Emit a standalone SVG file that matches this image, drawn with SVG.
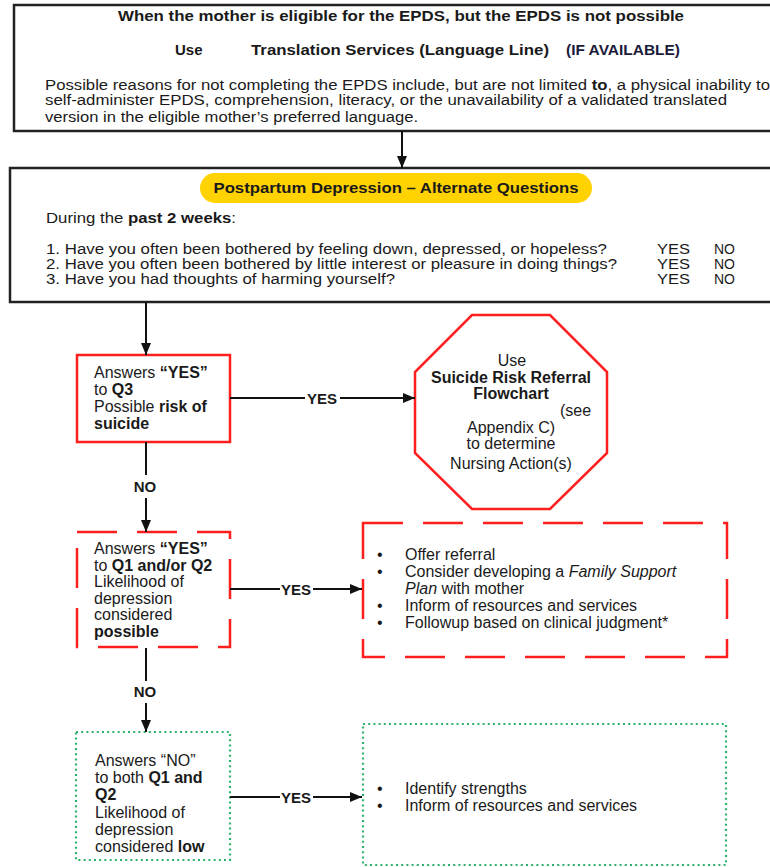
<svg xmlns="http://www.w3.org/2000/svg" width="770" height="867" viewBox="0 0 770 867">
<defs>
<marker id="ah" markerWidth="12" markerHeight="10" refX="12" refY="5" orient="auto" markerUnits="userSpaceOnUse">
<path d="M0,0 L12,5 L0,10 Z" fill="#111"/>
</marker>
<style>
text{font-family:"Liberation Sans",Arial,sans-serif;fill:#1a1a1a}
.t{font-size:15px}
.s{font-size:14px}
.n{font-size:16px}
.b{font-weight:bold}
.i{font-style:italic}
.lbl{font-size:15px;font-weight:bold;text-anchor:middle}
.frame{fill:#fff;stroke:#222;stroke-width:2.5}
.red{fill:#fff;stroke:#ff1f1f;stroke-width:2.5}
.redd{fill:#fff;stroke:#ff1f1f;stroke-width:2.5;stroke-dasharray:40 20}
.grn{fill:#fff;stroke:#2db36b;stroke-width:2.2;stroke-dasharray:2 3.2}
.c{stroke:#111;stroke-width:2;fill:none}
.m{text-anchor:middle}
</style>
</defs>

<g id="intro">
<rect class="frame" x="14" y="5" width="770" height="126"/>
<text class="t b" x="118" y="21" textLength="566" lengthAdjust="spacingAndGlyphs">When the mother is eligible for the EPDS, but the EPDS is not possible</text>
<text class="t b" x="175" y="55">Use</text>
<text class="t b" x="251" y="55" textLength="298" lengthAdjust="spacingAndGlyphs">Translation Services (Language Line)</text>
<text class="t b" x="566" y="55" textLength="114" lengthAdjust="spacingAndGlyphs" style="fill:#1a1a3a">(IF AVAILABLE)</text>
<text class="s" x="45" y="90" textLength="725" lengthAdjust="spacingAndGlyphs">Possible reasons for not completing the EPDS include, but are not limited <tspan class="b">to</tspan>, a physical inability to</text>
<text class="s" x="45" y="105" textLength="682" lengthAdjust="spacingAndGlyphs">self-administer EPDS, comprehension, literacy, or the unavailability of a validated translated</text>
<text class="s" x="45" y="122" textLength="373" lengthAdjust="spacingAndGlyphs">version in the eligible mother’s preferred language.</text>
</g>

<g id="questions">
<rect class="frame" x="10" y="168" width="780" height="134"/>
<rect x="200" y="173" width="392" height="30" rx="15" fill="#ffd200"/>
<text class="t b m" x="396" y="193" textLength="365" lengthAdjust="spacingAndGlyphs">Postpartum Depression – Alternate Questions</text>
<text class="t" x="46" y="223" textLength="190" lengthAdjust="spacingAndGlyphs">During the <tspan class="b">past 2 weeks</tspan>:</text>
<text class="s" x="46" y="254" textLength="561" lengthAdjust="spacingAndGlyphs">1. Have you often been bothered by feeling down, depressed, or hopeless?</text>
<text class="s" x="46" y="269" textLength="571" lengthAdjust="spacingAndGlyphs">2. Have you often been bothered by little interest or pleasure in doing things?</text>
<text class="s" x="46" y="284" textLength="349" lengthAdjust="spacingAndGlyphs">3. Have you had thoughts of harming yourself?</text>
<text class="s" x="657" y="254" textLength="33" lengthAdjust="spacingAndGlyphs">YES</text><text class="s" x="714" y="254">NO</text>
<text class="s" x="657" y="269" textLength="33" lengthAdjust="spacingAndGlyphs">YES</text><text class="s" x="714" y="269">NO</text>
<text class="s" x="657" y="284" textLength="33" lengthAdjust="spacingAndGlyphs">YES</text><text class="s" x="714" y="284">NO</text>
</g>

<g id="q3-yes">
<rect class="red" x="77" y="355" width="153" height="87"/>
<text class="n" x="94" y="378">Answers <tspan class="b">“YES”</tspan></text>
<text class="n" x="94" y="395">to <tspan class="b">Q3</tspan></text>
<text class="n" x="94" y="412">Possible <tspan class="b">risk of</tspan></text>
<text class="n b" x="94" y="429">suicide</text>
</g>

<g id="suicide-referral">
<polygon class="red" points="472,315 550,315 607,372 607,453 550,509 472,509 415,453 415,372"/>
<text class="n m" x="512" y="366">Use</text>
<text class="n b m" x="511" y="383">Suicide Risk Referral</text>
<text class="n b m" x="511" y="399">Flowchart</text>
<text class="n" x="560" y="416">(see</text>
<text class="n m" x="511" y="433">Appendix C)</text>
<text class="n m" x="511" y="449">to determine</text>
<text class="n m" x="511" y="469">Nursing Action(s)</text>
</g>

<g id="q12-yes">
<rect class="redd" x="77" y="532" width="153" height="115"/>
<text class="n" x="94" y="554">Answers <tspan class="b">“YES”</tspan></text>
<text class="n" x="94" y="570.5">to <tspan class="b">Q1 and/or Q2</tspan></text>
<text class="n" x="94" y="587">Likelihood of</text>
<text class="n" x="94" y="603.5">depression</text>
<text class="n" x="94" y="620">considered</text>
<text class="n b" x="94" y="636.5">possible</text>
</g>

<g id="possible-actions">
<rect class="redd" x="363" y="523" width="364" height="134"/>
<text class="n" x="377" y="560">•</text><text class="n" x="405" y="560">Offer referral</text>
<text class="n" x="377" y="577">•</text><text class="n" x="405" y="577">Consider developing a <tspan class="i">Family Support</tspan></text>
<text class="n" x="405" y="594"><tspan class="i">Plan</tspan> with mother</text>
<text class="n" x="377" y="611">•</text><text class="n" x="405" y="611">Inform of resources and services</text>
<text class="n" x="377" y="628">•</text><text class="n" x="405" y="628">Followup based on clinical judgment*</text>
</g>

<g id="q12-no">
<rect class="grn" x="76" y="732" width="154" height="128"/>
<text class="n" x="95" y="766">Answers “NO”</text>
<text class="n" x="95" y="783">to both <tspan class="b">Q1 and</tspan></text>
<text class="n b" x="95" y="800">Q2</text>
<text class="n" x="95" y="818">Likelihood of</text>
<text class="n" x="95" y="835">depression</text>
<text class="n" x="95" y="852">considered <tspan class="b">low</tspan></text>
</g>

<g id="low-actions">
<rect class="grn" x="363" y="724" width="363" height="141"/>
<text class="n" x="377" y="794">•</text><text class="n" x="405" y="794">Identify strengths</text>
<text class="n" x="377" y="811">•</text><text class="n" x="405" y="811">Inform of resources and services</text>
</g>

<g id="connectors">
<line class="c" x1="402" y1="131" x2="402" y2="168" marker-end="url(#ah)"/>
<line class="c" x1="146" y1="302" x2="146" y2="355" marker-end="url(#ah)"/>
<line class="c" x1="230" y1="398" x2="305" y2="398"/>
<line class="c" x1="340" y1="398" x2="415" y2="398" marker-end="url(#ah)"/>
<text class="lbl" x="322" y="404">YES</text>
<line class="c" x1="146" y1="442" x2="146" y2="475"/>
<line class="c" x1="146" y1="498" x2="146" y2="532" marker-end="url(#ah)"/>
<text class="lbl" x="145" y="492">NO</text>
<line class="c" x1="230" y1="589" x2="280" y2="589"/>
<line class="c" x1="313" y1="589" x2="362" y2="589" marker-end="url(#ah)"/>
<text class="lbl" x="296" y="595">YES</text>
<line class="c" x1="146" y1="648" x2="146" y2="681"/>
<line class="c" x1="146" y1="703" x2="146" y2="732" marker-end="url(#ah)"/>
<text class="lbl" x="145" y="697">NO</text>
<line class="c" x1="230" y1="797" x2="280" y2="797"/>
<line class="c" x1="313" y1="797" x2="362" y2="797" marker-end="url(#ah)"/>
<text class="lbl" x="296" y="803">YES</text>
</g>
</svg>
